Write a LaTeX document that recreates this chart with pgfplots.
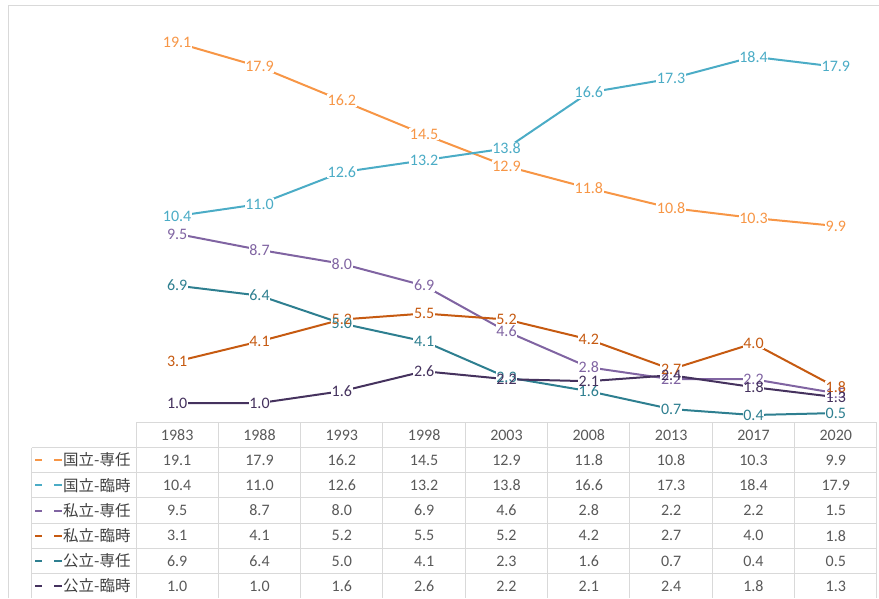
\documentclass[border=0pt]{standalone}
\usepackage{pgfplots}
\pgfplotsset{compat=1.18}
\usepackage{pgfplotstable}
\usepackage{fontspec}
\setmainfont{Carlito}
\newfontfamily\jp{Noto Sans CJK JP}
\definecolor{c1}{HTML}{F79646}
\definecolor{c2}{HTML}{4BACC6}
\definecolor{c3}{HTML}{8064A2}
\definecolor{c4}{HTML}{C65A11}
\definecolor{c5}{HTML}{2E7F90}
\definecolor{c6}{HTML}{45325E}
\definecolor{gridc}{HTML}{D9D9D9}
\definecolor{tc}{HTML}{595959}
\definecolor{lc}{HTML}{404040}
\newcommand\labfont{\fontsize{16pt}{18pt}\selectfont}
\pgfplotstableread{
x a b c d e f
1 19.1 10.4 9.5 3.1 6.9 1.0
2 17.9 11.0 8.7 4.1 6.4 1.0
3 16.2 12.6 8.0 5.2 5.0 1.6
4 14.5 13.2 6.9 5.5 4.1 2.6
5 12.9 13.8 4.6 5.2 2.3 2.2
6 11.8 16.6 2.8 4.2 1.6 2.1
7 10.8 17.3 2.2 2.7 0.7 2.4
8 10.3 18.4 2.2 4.0 0.4 1.8
9 9.9 17.9 1.5 1.8 0.5 1.3
}\data
\newcommand\trow[4]{%
  \draw[#2, line width=2pt] (35,#1) -- (41.5,#1) (54,#1) -- (62,#1);
  \node[anchor=west, text=lc, font=\jp\fontsize{15.5pt}{17pt}\selectfont, inner sep=0pt] at (63,#1) {#3};
  \foreach \v [count=\i] in {#4} \node[text=tc, font=\labfont] at (136+82.33*\i-41.17,#1) {\v};
}
\begin{document}
\begin{tikzpicture}
\useasboundingbox (0,0) rectangle (879pt,598pt);
\begin{axis}[at={(136pt,175pt)}, anchor=south west,
  width=741pt, height=418pt, scale only axis,
  xmin=0.5, xmax=9.5, ymin=0, ymax=21, hide axis, clip=false,
  /pgf/number format/.cd, fixed, fixed zerofill, precision=1, assume math mode=true, /pgfplots/.cd,
  every axis plot/.append style={line width=2pt, mark=none},
  box/.style={draw=none, forget plot, nodes near coords, point meta=y,
    every node near coord/.append style={anchor=center, fill=white, text=white, inner sep=0.8pt, font=\labfont}},
  lab/.style={draw=none, forget plot, nodes near coords, point meta=y,
    every node near coord/.append style={anchor=center, text=#1, inner sep=0.8pt, font=\labfont}},
]
\addplot[c1] table[x=x,y=a]{\data};
\addplot[c2] table[x=x,y=b]{\data};
\addplot[c3] table[x=x,y=c]{\data};
\addplot[c4] table[x=x,y=d]{\data};
\addplot[c5] table[x=x,y=e]{\data};
\addplot[c6] table[x=x,y=f]{\data};
\addplot[box] table[x=x,y=a]{\data};
\addplot[box] table[x=x,y=b]{\data};
\addplot[box] table[x=x,y=c]{\data};
\addplot[box] table[x=x,y=d]{\data};
\addplot[box] table[x=x,y=e]{\data};
\addplot[box] table[x=x,y=f]{\data};
\addplot[lab=c1] table[x=x,y=a]{\data};
\addplot[lab=c2] table[x=x,y=b]{\data};
\addplot[lab=c3] table[x=x,y=c]{\data};
\addplot[lab=c4] table[x=x,y=d]{\data};
\addplot[lab=c5] table[x=x,y=e]{\data};
\addplot[lab=c6] table[x=x,y=f]{\data};
\end{axis}
\begin{scope}[x=1pt,y=-1pt,shift={(0pt,598pt)}]
\draw[gridc, line width=1pt] (8,598) -- (8,6) -- (879,6);
\draw[gridc, line width=1pt] (136,423) -- (877,423);
\foreach \y in {447.5,472.7,497.9,523.1,548.3,573.5} \draw[gridc,line width=1pt] (31.7,\y) -- (877,\y);
\draw[gridc, line width=1pt] (31.7,447.5) -- (31.7,598);
\foreach \i in {0,...,9} \draw[gridc, line width=1pt] (136+82.33*\i,423) -- (136+82.33*\i,598);
\foreach \yr [count=\i] in {1983,1988,1993,1998,2003,2008,2013,2017,2020} \node[text=tc, font=\labfont] at (136+82.33*\i-41.17,435.5) {\yr};
\trow{460}{c1}{国立-専任}{19.1,17.9,16.2,14.5,12.9,11.8,10.8,10.3,9.9}
\trow{485.3}{c2}{国立-臨時}{10.4,11.0,12.6,13.2,13.8,16.6,17.3,18.4,17.9}
\trow{510.5}{c3}{私立-専任}{9.5,8.7,8.0,6.9,4.6,2.8,2.2,2.2,1.5}
\trow{535.7}{c4}{私立-臨時}{3.1,4.1,5.2,5.5,5.2,4.2,2.7,4.0,1.8}
\trow{561}{c5}{公立-専任}{6.9,6.4,5.0,4.1,2.3,1.6,0.7,0.4,0.5}
\trow{586}{c6}{公立-臨時}{1.0,1.0,1.6,2.6,2.2,2.1,2.4,1.8,1.3}
\end{scope}
\end{tikzpicture}
\end{document}
